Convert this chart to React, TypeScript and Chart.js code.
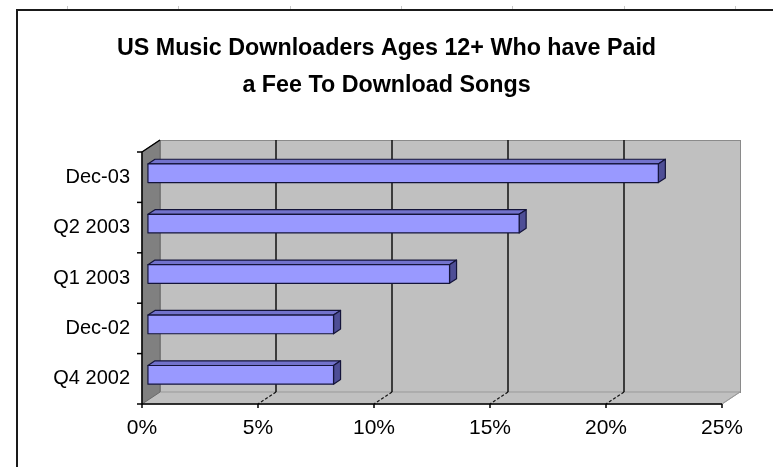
import React, { useEffect, useRef } from "react";
import { Chart, registerables } from "chart.js";

Chart.register(...registerables);

const titleLines = ["US Music Downloaders Ages 12+ Who have Paid", "a Fee To Download Songs"];
const categories = ["Dec-03", "Q2 2003", "Q1 2003", "Dec-02", "Q4 2002"];
const values = [22, 16, 13, 8, 8];
const xTicks = [0, 5, 10, 15, 20, 25];

const FONT = "'Liberation Sans', Arial, sans-serif";
const DEPTH = { x: 18, y: -12 };
const BAR_FRONT = 0.33;
const BAR_BACK = 0.72;

const pseudo3d = {
  id: "pseudo3d",
  beforeDraw(chart: any) {
    const ctx = chart.ctx;
    ctx.save();
    ctx.strokeStyle = "#c8c8c8";
    ctx.lineWidth = 1;
    [67, 178, 290, 401, 512, 624, 735].forEach((mx) => {
      ctx.beginPath();
      ctx.moveTo(mx + 0.5, 6);
      ctx.lineTo(mx + 0.5, 10);
      ctx.stroke();
    });
    ctx.strokeStyle = "#1a1a1a";
    ctx.lineWidth = 2;
    ctx.beginPath();
    ctx.moveTo(17, chart.height + 2);
    ctx.lineTo(17, 10);
    ctx.lineTo(chart.width + 2, 10);
    ctx.stroke();
    ctx.restore();
  },
  beforeDatasetsDraw(chart: any) {
    const ctx = chart.ctx;
    const { left: L, right: R, top: T, bottom: B } = chart.chartArea;
    const dx = DEPTH.x, dy = DEPTH.y;
    const xs = chart.scales.x;
    ctx.save();
    ctx.fillStyle = "#C0C0C0";
    ctx.fillRect(L + dx, T + dy, R - L, B - T);
    ctx.strokeStyle = "#8a8a8a";
    ctx.lineWidth = 1;
    ctx.strokeRect(L + dx + 0.5, T + dy + 0.5, R - L, B - T);
    ctx.beginPath();
    ctx.moveTo(L, B);
    ctx.lineTo(L + dx, B + dy);
    ctx.lineTo(R + dx, B + dy);
    ctx.lineTo(R, B);
    ctx.closePath();
    ctx.fillStyle = "#C0C0C0";
    ctx.fill();
    ctx.strokeStyle = "#999999";
    ctx.stroke();
    ctx.beginPath();
    ctx.moveTo(L, T);
    ctx.lineTo(L + dx, T + dy);
    ctx.lineTo(L + dx, B + dy);
    ctx.lineTo(L, B);
    ctx.closePath();
    ctx.fillStyle = "#808080";
    ctx.fill();
    ctx.strokeStyle = "#6a6a6a";
    ctx.stroke();
    xTicks.forEach((v) => {
      if (v === 0 || v === xTicks[xTicks.length - 1]) return;
      const px = Math.round(xs.getPixelForValue(v));
      ctx.strokeStyle = "#111";
      ctx.lineWidth = 1.5;
      ctx.setLineDash([]);
      ctx.beginPath();
      ctx.moveTo(px + dx, T + dy);
      ctx.lineTo(px + dx, B + dy);
      ctx.stroke();
      ctx.lineWidth = 1.2;
      ctx.setLineDash([3, 2]);
      ctx.beginPath();
      ctx.moveTo(px + dx, B + dy);
      ctx.lineTo(px, B);
      ctx.stroke();
    });
    ctx.restore();
  },
  afterDatasetsDraw(chart: any) {
    const ctx = chart.ctx;
    const { left: L, right: R, top: T, bottom: B } = chart.chartArea;
    const dx = DEPTH.x, dy = DEPTH.y;
    const xs = chart.scales.x;
    const ys = chart.scales.y;
    const meta = chart.getDatasetMeta(0);
    const fx = dx * BAR_FRONT, fy = dy * BAR_FRONT;
    const bx = dx * BAR_BACK, by = dy * BAR_BACK;
    ctx.save();
    ctx.lineJoin = "round";
    ctx.lineWidth = 1.2;
    ctx.strokeStyle = "#14143a";
    meta.data.forEach((el: any) => {
      const p = el.getProps(["x", "y", "base", "height"], true);
      const x0 = p.base, x1 = p.x;
      const t = p.y - p.height / 2, b = p.y + p.height / 2;
      ctx.beginPath();
      ctx.moveTo(x0 + fx, t + fy);
      ctx.lineTo(x0 + bx, t + by);
      ctx.lineTo(x1 + bx, t + by);
      ctx.lineTo(x1 + fx, t + fy);
      ctx.closePath();
      ctx.fillStyle = "#7272CC";
      ctx.fill();
      ctx.stroke();
      ctx.beginPath();
      ctx.moveTo(x1 + fx, t + fy);
      ctx.lineTo(x1 + bx, t + by);
      ctx.lineTo(x1 + bx, b + by);
      ctx.lineTo(x1 + fx, b + fy);
      ctx.closePath();
      ctx.fillStyle = "#4E4E96";
      ctx.fill();
      ctx.stroke();
      ctx.beginPath();
      ctx.rect(x0 + fx, t + fy, x1 - x0, b - t);
      ctx.fillStyle = "#9999FF";
      ctx.fill();
      ctx.stroke();
    });
    ctx.strokeStyle = "#000";
    ctx.lineWidth = 1.5;
    ctx.beginPath();
    ctx.moveTo(L + dx, T + dy);
    ctx.lineTo(L, T);
    ctx.lineTo(L, B);
    ctx.lineTo(R, B);
    ctx.stroke();
    ctx.strokeStyle = "#9a9a9a";
    ctx.lineWidth = 1;
    ctx.beginPath();
    ctx.moveTo(R, B);
    ctx.lineTo(R + dx, B + dy);
    ctx.stroke();
    ctx.strokeStyle = "#000";
    ctx.lineWidth = 1.5;
    const n = categories.length;
    const band = (B - T) / n;
    for (let i = 0; i <= n; i++) {
      const py = i < n ? ys.getPixelForValue(i) - band / 2 : ys.getPixelForValue(n - 1) + band / 2;
      ctx.beginPath();
      ctx.moveTo(L - 5, py);
      ctx.lineTo(L, py);
      ctx.stroke();
    }
    xTicks.forEach((v) => {
      const px = xs.getPixelForValue(v);
      ctx.beginPath();
      ctx.moveTo(px, B);
      ctx.lineTo(px, B + 4);
      ctx.stroke();
    });
    ctx.restore();
  },
};

export default function App() {
  const ref = useRef<HTMLCanvasElement>(null);
  useEffect(() => {
    const chart = new Chart(ref.current as HTMLCanvasElement, {
      type: "bar",
      data: {
        labels: categories,
        datasets: [
          {
            data: values,
            backgroundColor: "rgba(0,0,0,0)",
            borderWidth: 0,
            barPercentage: 0.37,
            categoryPercentage: 1,
          },
        ],
      },
      options: {
        indexAxis: "y",
        responsive: false,
        animation: false,
        devicePixelRatio: 1,
        layout: { padding: 0 },
        plugins: {
          legend: { display: false },
          tooltip: { enabled: false },
          title: {
            display: true,
            text: titleLines,
            color: "#000",
            font: { family: FONT, size: 23.3, weight: "bold", lineHeight: 37 / 23.3 },
            padding: { top: 30, bottom: 48 },
          },
        },
        scales: {
          x: {
            type: "linear",
            position: "bottom",
            min: 0,
            max: 25,
            afterBuildTicks: (s: any) => {
              s.ticks = xTicks.map((v) => ({ value: v }));
            },
            ticks: {
              callback: (v: any) => v + "%",
              color: "#000",
              font: { family: FONT, size: 21 },
              padding: 12,
              maxRotation: 0,
              autoSkip: false,
            },
            grid: { display: false, drawTicks: false, tickLength: 0 },
            border: { display: false },
            afterFit: (s: any) => {
              s.height = 63;
            },
          },
          y: {
            type: "category",
            offset: true,
            ticks: {
              color: "#000",
              font: { family: FONT, size: 20 },
              padding: 12,
            },
            grid: { display: false, drawTicks: false, tickLength: 0 },
            border: { display: false },
            afterFit: (s: any) => {
              s.width = 142;
            },
          },
          yRightSpace: {
            type: "linear",
            position: "right",
            display: true,
            ticks: { display: false },
            grid: { display: false, drawTicks: false, tickLength: 0 },
            border: { display: false },
            afterFit: (s: any) => {
              s.width = 51;
            },
          },
        },
      } as any,
      plugins: [pseudo3d],
    });
    return () => chart.destroy();
  }, []);
  return (
    <div style={{ position: "fixed", left: 0, top: 0, width: 773, height: 467, background: "#fff" }}>
      <canvas ref={ref} width={773} height={467} style={{ display: "block" }} />
    </div>
  );
}
